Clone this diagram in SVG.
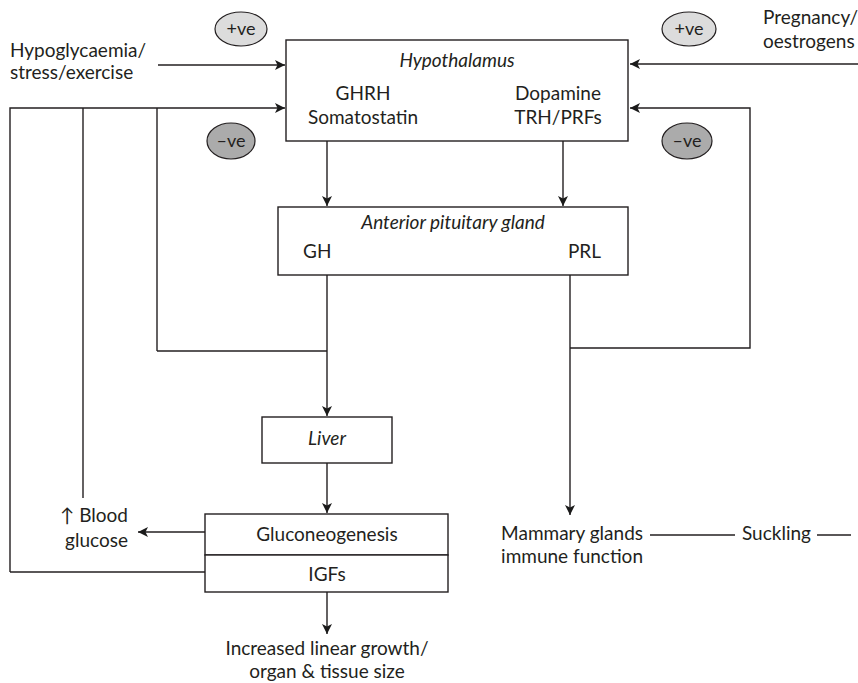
<svg xmlns="http://www.w3.org/2000/svg" width="858" height="683" viewBox="0 0 858 683">
<defs>
<marker id="ah" viewBox="0 0 10 10" refX="10" refY="5" markerWidth="10" markerHeight="10" markerUnits="userSpaceOnUse" orient="auto">
<path d="M0,0 L10,5 L0,10 L2.5,5 z" fill="#1a1a1a"/>
</marker>
<style>
text{font-family:Lato,"Noto Sans","Liberation Sans",sans-serif;font-size:19px;fill:#231f20}
.it{font-style:italic}
.c{text-anchor:middle}
.e{text-anchor:end}
.box{fill:#fff;stroke:#231f20;stroke-width:1.4}
.ln{fill:none;stroke:#231f20;stroke-width:1.4}
.arr{fill:none;stroke:#231f20;stroke-width:1.4;marker-end:url(#ah)}
.pos{fill:#dcdcdc;stroke:#231f20;stroke-width:1.2}
.neg{fill:#ababab;stroke:#231f20;stroke-width:1.2}
.sm{font-size:18px}
</style>
</defs>
<g id="connectors">
<line class="arr" x1="158" y1="65" x2="285" y2="65"/>
<polyline class="arr" points="10,572 10,108 285,108"/>
<line class="ln" x1="83" y1="108" x2="83" y2="498"/>
<line class="ln" x1="157" y1="108" x2="157" y2="351"/>
<line class="arr" x1="858" y1="64" x2="630" y2="64"/>
<polyline class="arr" points="570,348 750,348 750,108 630,108"/>
<line class="arr" x1="327" y1="141" x2="327" y2="206"/>
<line class="arr" x1="563" y1="141" x2="563" y2="206"/>
<polyline class="ln" points="157,351 327,351"/>
<line class="arr" x1="327" y1="275" x2="327" y2="416"/>
<line class="arr" x1="570" y1="275" x2="570" y2="515"/>
<line class="arr" x1="327" y1="463" x2="327" y2="513"/>
<line class="arr" x1="205" y1="532" x2="138" y2="532"/>
<line class="ln" x1="10" y1="572" x2="205" y2="572"/>
<line class="arr" x1="327" y1="592" x2="327" y2="634"/>
<line class="ln" x1="650" y1="535" x2="735" y2="535"/>
<line class="ln" x1="817" y1="535" x2="851" y2="535"/>
</g>
<g id="hypothalamus">
<rect class="box" x="286" y="40" width="342" height="101"/>
<text class="it c" x="457" y="67">Hypothalamus</text>
<text class="c" x="363" y="100">GHRH</text>
<text class="c" x="363" y="124">Somatostatin</text>
<text class="c" x="558" y="100">Dopamine</text>
<text class="c" x="558" y="124">TRH/PRFs</text>
</g>
<g id="anterior-pituitary">
<rect class="box" x="278" y="207" width="350" height="68"/>
<text class="it c" x="453" y="229">Anterior pituitary gland</text>
<text x="303" y="258">GH</text>
<text class="e" x="601" y="258">PRL</text>
</g>
<g id="liver">
<rect class="box" x="262" y="417" width="130" height="46"/>
<text class="it c" x="327" y="445">Liver</text>
</g>
<g id="gluconeogenesis">
<rect class="box" x="205" y="514" width="243" height="41"/>
<text class="c" x="327" y="541">Gluconeogenesis</text>
</g>
<g id="igfs">
<rect class="box" x="205" y="555" width="243" height="37"/>
<text class="c" x="327" y="581">IGFs</text>
</g>
<g id="hypoglycaemia">
<text x="10" y="57">Hypoglycaemia/</text>
<text x="10" y="79">stress/exercise</text>
</g>
<g id="pregnancy">
<text x="763" y="24">Pregnancy/</text>
<text x="763" y="48">oestrogens</text>
</g>
<g id="blood-glucose">
<text class="e" x="128" y="522">↑ Blood</text>
<text class="e" x="128" y="547">glucose</text>
</g>
<g id="growth">
<text class="c" x="327" y="655">Increased linear growth/</text>
<text class="c" x="327" y="678">organ &amp; tissue size</text>
</g>
<g id="mammary">
<text class="e" x="643" y="540">Mammary glands</text>
<text class="e" x="643" y="563">immune function</text>
</g>
<g id="suckling">
<text x="742" y="540">Suckling</text>
</g>
<g id="pos-left">
<ellipse class="pos" cx="241" cy="29" rx="26" ry="17"/>
<text class="c sm" x="241" y="35">+ve</text>
</g>
<g id="neg-left">
<ellipse class="neg" cx="231" cy="141" rx="24" ry="18"/>
<text class="c sm" x="231" y="147">–ve</text>
</g>
<g id="pos-right">
<ellipse class="pos" cx="689" cy="29" rx="27" ry="17"/>
<text class="c sm" x="689" y="35">+ve</text>
</g>
<g id="neg-right">
<ellipse class="neg" cx="687" cy="141" rx="25" ry="18"/>
<text class="c sm" x="687" y="147">–ve</text>
</g>
</svg>
